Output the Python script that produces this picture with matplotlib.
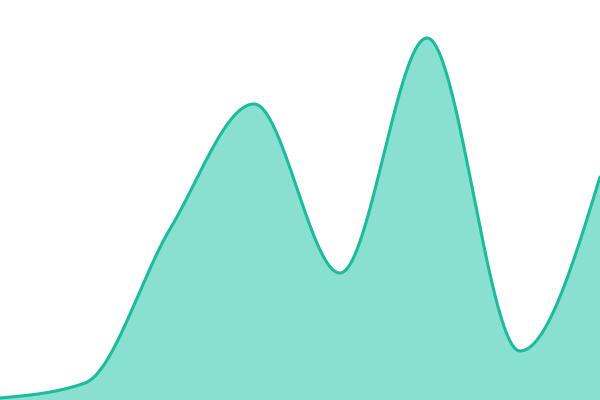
import numpy as np
import matplotlib
matplotlib.use('Agg')
import matplotlib.pyplot as plt

# points (x in pixels along the chart, bottom of chart = 0, top = 400)
positions = [0, 85, 170, 254, 340, 427, 520, 600]
values = [2, 17, 171, 296, 127, 362, 49, 223]

LINE = '#1abc9c'
FILL = '#8ae0d0'


def monotone_curve(x, y, n=60):
    """monotone cubic (Fritsch-Carlson) curve through the points, used only for drawing"""
    x = np.asarray(x, float)
    y = np.asarray(y, float)
    h = np.diff(x)
    s = np.diff(y) / h
    m = np.zeros_like(y)
    for i in range(1, len(y) - 1):
        if s[i - 1] * s[i] > 0:
            p = (s[i - 1] * h[i] + s[i] * h[i - 1]) / (h[i - 1] + h[i])
            m[i] = np.sign(s[i - 1]) * min(2 * abs(s[i - 1]), 2 * abs(s[i]), abs(p))
    m[0] = (3 * s[0] - m[1]) / 2
    m[-1] = (3 * s[-1] - m[-2]) / 2
    xs, ys = [], []
    for i in range(len(h)):
        t = np.linspace(0, 1, n)
        h00 = 2 * t**3 - 3 * t**2 + 1
        h10 = t**3 - 2 * t**2 + t
        h01 = -2 * t**3 + 3 * t**2
        h11 = t**3 - t**2
        xs.append(x[i] + t * h[i])
        ys.append(h00 * y[i] + h10 * h[i] * m[i] + h01 * y[i + 1] + h11 * h[i] * m[i + 1])
    return np.concatenate(xs), np.concatenate(ys)


fig = plt.figure(figsize=(6, 4), dpi=100)
ax = fig.add_axes([0, 0, 1, 1])
cx, cy = monotone_curve(positions, values)
ax.fill_between(cx, 0, cy, color=FILL, lw=0)
ax.plot(cx, cy, color=LINE, lw=2.2, solid_capstyle='round')
ax.set_xlim(positions[0], positions[-1])
ax.set_ylim(0, 400)
ax.axis('off')
fig.savefig('out.png', dpi=100)
